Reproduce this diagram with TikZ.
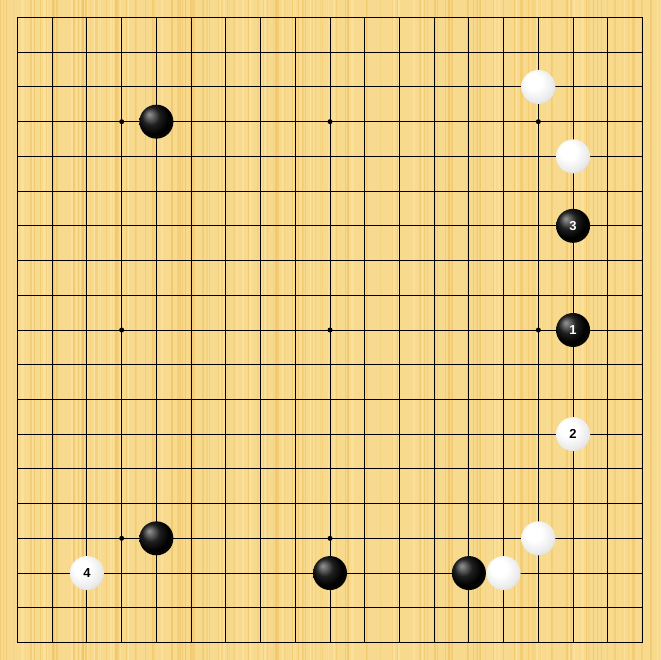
\documentclass[tikz,border=0pt]{standalone}
\usepackage{fontspec}
\setsansfont{Liberation Sans}
\definecolor{wood}{RGB}{248,218,142}
\definecolor{woodstripe}{RGB}{240,196,100}
\definecolor{woodlight}{RGB}{252,228,165}
\pgfdeclareradialshading{wstoneshade}{\pgfpoint{-9bp}{10bp}}{color(0bp)=(white); color(12bp)=(white); color(26bp)=(black!8); color(38bp)=(black!20); color(50bp)=(black!38)}
\pgfdeclareradialshading{bstoneshade}{\pgfpoint{-11bp}{11bp}}{color(0bp)=(black!42); color(4bp)=(black!55); color(13bp)=(black!88); color(24bp)=(black); color(50bp)=(black!85)}
\begin{document}
\begin{tikzpicture}[x=1pt,y=-1pt,
  gridline/.style={line width=0.9pt,black},
  starpt/.style={circle,fill=black,inner sep=0pt,minimum size=5pt},
  stone/.style={circle,inner sep=0pt,minimum size=34pt,font=\sffamily\bfseries\fontsize{13}{13}\selectfont},
  bstone/.style={stone,shading=bstoneshade,text=white},
  wstone/.style={stone,shading=wstoneshade,text=black}]
\useasboundingbox (0,0) rectangle (660,660);
\fill[wood] (0,0) rectangle (660,660);
\pgfmathsetseed{7}
\foreach \i in {0,...,160}{
  \pgfmathsetmacro{\xx}{rnd*660}
  \pgfmathsetmacro{\ww}{0.6+rnd*1.6}
  \pgfmathsetmacro{\op}{0.25+rnd*0.45}
  \fill[woodstripe,opacity=\op] (\xx,0) rectangle ++(\ww,660);
}
\foreach \i in {0,...,80}{
  \pgfmathsetmacro{\xx}{rnd*660}
  \pgfmathsetmacro{\ww}{0.6+rnd*1.5}
  \fill[woodlight,opacity=0.6] (\xx,0) rectangle ++(\ww,660);
}
\def\gs{34.7222}
\foreach \k in {0,...,18}{
  \draw[gridline] (17.5+\k*\gs,17.5) -- (17.5+\k*\gs,642.5);
  \draw[gridline] (17.5,17.5+\k*\gs) -- (642.5,17.5+\k*\gs);
}
\draw[line width=1.2pt] (17.5,17.5) rectangle (642.5,642.5);
% star points
\foreach \c/\r in {3/3,9/3,15/3,3/9,9/9,15/9,3/15,9/15,15/15}{
  \node[starpt] (star-\c-\r) at (17.5+\c*\gs,17.5+\r*\gs) {};
}
% stones
\node[bstone] (b-4-3) at (17.5+4*\gs,17.5+3*\gs) {};
\node[wstone] (w-15-2) at (17.5+15*\gs,17.5+2*\gs) {};
\node[wstone] (w-16-4) at (17.5+16*\gs,17.5+4*\gs) {};
\node[bstone] (m3) at (17.5+16*\gs,17.5+6*\gs) {3};
\node[bstone] (m1) at (17.5+16*\gs,17.5+9*\gs) {1};
\node[wstone] (m2) at (17.5+16*\gs,17.5+12*\gs) {2};
\node[wstone] (w-15-15) at (17.5+15*\gs,17.5+15*\gs) {};
\node[wstone] (w-14-16) at (17.5+14*\gs,17.5+16*\gs) {};
\node[bstone] (b-13-16) at (17.5+13*\gs,17.5+16*\gs) {};
\node[bstone] (b-9-16) at (17.5+9*\gs,17.5+16*\gs) {};
\node[bstone] (b-4-15) at (17.5+4*\gs,17.5+15*\gs) {};
\node[wstone] (m4) at (17.5+2*\gs,17.5+16*\gs) {4};
\end{tikzpicture}
\end{document}
